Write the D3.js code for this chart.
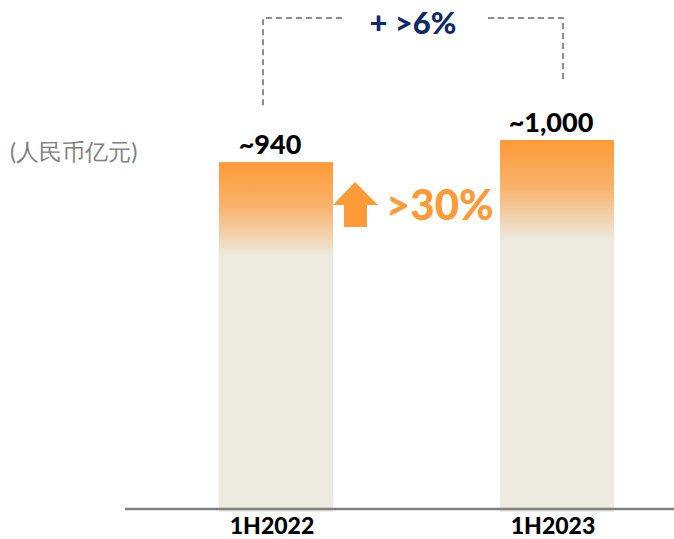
<!DOCTYPE html>
<html lang="zh">
<head>
<meta charset="UTF-8">
<title>1H2022 vs 1H2023</title>
<script src="https://d3js.org/d3.v7.min.js"></script>
<style>
  body { margin: 0; background: #fff; }
  svg { display: block; }
  text { font-family: Lato, "Open Sans", sans-serif; }
</style>
</head>
<body>
<svg width="674" height="539"></svg>
<script>
// data
const categories = ["1H2022", "1H2023"];
const values = [940, 1000];
const valueLabels = ["~940", "~1,000"];
const unitLabel = "(人民币亿元)";
const growthLabel = "+ >6%";
const shareLabel = ">30%";

const svg = d3.select("svg");

const x = d3.scalePoint().domain(categories).range([276, 557]);
const y = d3.scaleLinear().domain([0, 1000]).range([509, 140]);
const barW = 114;

// gradient for bars
const grad = svg.append("defs").append("linearGradient")
    .attr("id", "barGrad")
    .attr("x1", 0).attr("y1", 0).attr("x2", 0).attr("y2", 1);
grad.append("stop").attr("offset", 0).attr("stop-color", "#FE9A37");
grad.append("stop").attr("offset", 0.13).attr("stop-color", "#F8B46E");
grad.append("stop").attr("offset", 0.27).attr("stop-color", "#EDEADF");
grad.append("stop").attr("offset", 1).attr("stop-color", "#EDEADF");

// bars
svg.selectAll("rect.bar")
    .data(values)
    .enter().append("rect")
    .attr("class", "bar")
    .attr("x", (d, i) => x(categories[i]) - barW / 2)
    .attr("y", d => y(d))
    .attr("width", barW)
    .attr("height", d => y(0) - y(d) + 3)
    .attr("fill", "url(#barGrad)");

// baseline
svg.append("line")
    .attr("x1", 125).attr("x2", 674)
    .attr("y1", y(0)).attr("y2", y(0))
    .attr("stroke", "#808080")
    .attr("stroke-width", 2.5);

// value labels
svg.selectAll("text.val")
    .data(values)
    .enter().append("text")
    .attr("class", "val")
    .attr("x", (d, i) => x(categories[i]) - 6)
    .attr("y", d => y(d) - 8)
    .attr("text-anchor", "middle")
    .attr("font-size", 27)
    .attr("font-weight", 900)
    .attr("fill", "#000")
    .text((d, i) => valueLabels[i]);

// category labels
svg.selectAll("text.cat")
    .data(categories)
    .enter().append("text")
    .attr("class", "cat")
    .attr("x", d => x(d) - 4)
    .attr("y", 534)
    .attr("text-anchor", "middle")
    .attr("font-size", 23)
    .attr("font-weight", 900)
    .attr("fill", "#000")
    .text(d => d);

// unit label
svg.append("text")
    .attr("x", 10).attr("y", 160)
    .attr("font-family", "'Noto Sans CJK SC', sans-serif")
    .attr("font-size", 23)
    .attr("fill", "#808080")
    .text(unitLabel);

// dashed bracket
const x0 = x(categories[0]) - 13, x1 = x(categories[1]) + 6;
const bracket = svg.append("g")
    .attr("fill", "none")
    .attr("stroke", "#8C8C8C")
    .attr("stroke-width", 2)
    .attr("stroke-dasharray", "6,4");
bracket.append("path").attr("d", `M${x0},${y(940) - 57}V18H343`);
bracket.append("path").attr("d", `M488,18H${x1}V${y(1000) - 58}`);

svg.append("text")
    .attr("x", (x0 + x1) / 2)
    .attr("y", 34)
    .attr("text-anchor", "middle")
    .attr("font-size", 31)
    .attr("font-weight", 900)
    .attr("fill", "#0E2A66")
    .text(growthLabel);

// up arrow
svg.append("path")
    .attr("d", "M355,182L378,205H367V227H344V205H333Z")
    .attr("fill", "#FE9A37");

svg.append("text")
    .attr("x", 386).attr("y", 220)
    .attr("font-size", 42)
    .attr("font-weight", 900)
    .attr("fill", "#FE9A37")
    .text(shareLabel);
</script>
</body>
</html>
